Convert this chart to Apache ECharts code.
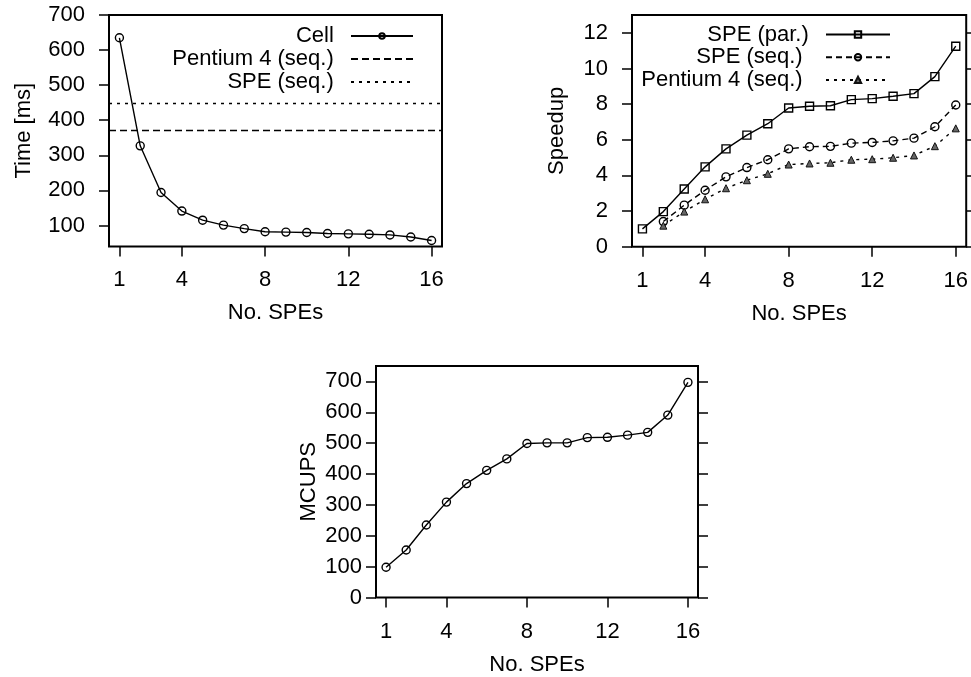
<!DOCTYPE html>
<html>
<head>
<meta charset="utf-8">
<script src="https://cdn.jsdelivr.net/npm/echarts@6/dist/echarts.min.js"></script>
<style>
  html, body { margin: 0; padding: 0; background: #fff; }
  #main { width: 971px; height: 677px; }
</style>
</head>
<body>
<div id="main"></div>
<script>
// No. of SPEs on the x axis
var spes = [1, 2, 3, 4, 5, 6, 7, 8, 9, 10, 11, 12, 13, 14, 15, 16];
var xTicks = [1, 4, 8, 12, 16];

// time [ms]
var cellTime = [635, 327, 194, 141, 115, 101, 91, 82, 81, 80, 77, 76, 75, 73, 67, 57];
var p4SeqTime = 372;
var speSeqTime = 448;
var timeTicks = [100, 200, 300, 400, 500, 600, 700];

// speedup
var speedupPar = [1.0, 1.97, 3.24, 4.48, 5.49, 6.26, 6.9, 7.78, 7.88, 7.91, 8.25, 8.31, 8.44, 8.59, 9.54, 11.25];
var speedupSpeSeq = [null, 1.41, 2.33, 3.17, 3.92, 4.44, 4.88, 5.49, 5.61, 5.63, 5.81, 5.85, 5.94, 6.09, 6.73, 7.95];
var speedupP4Seq = [null, 1.18, 1.97, 2.66, 3.28, 3.73, 4.09, 4.61, 4.67, 4.71, 4.88, 4.91, 4.99, 5.12, 5.64, 6.64];
var speedupTicks = [0, 2, 4, 6, 8, 10, 12];

// MCUPS
var mcups = [98, 154, 235, 309, 369, 412, 449, 499, 501, 501, 518, 519, 526, 535, 591, 697];
var mcupsTicks = [0, 100, 200, 300, 400, 500, 600, 700];

var FONT = 'Liberation Sans';
var FS = 22;
var LW = 1.4;

function pairs(vals) {
  var out = [];
  for (var i = 0; i < spes.length; i++) {
    if (vals[i] != null) out.push([spes[i], vals[i]]);
  }
  return out;
}

function xAx(grid, margin, gap) {
  return {
    gridIndex: grid, type: 'value', min: 0.5, max: 16.5,
    name: 'No. SPEs', nameLocation: 'middle', nameGap: gap,
    nameTextStyle: { fontFamily: FONT, fontSize: FS, color: '#000' },
    axisLine: { show: false },
    splitLine: { show: false },
    axisTick: { show: true, inside: false, length: 10, customValues: xTicks, lineStyle: { color: '#000', width: 1.5 } },
    axisLabel: { customValues: xTicks, margin: margin, fontFamily: FONT, fontSize: FS, color: '#000' }
  };
}

function yAx(grid, min, max, ticks, name, gap, margin, pos) {
  var right = pos === 'right';
  return {
    gridIndex: grid, type: 'value', min: min, max: max, position: pos || 'left',
    name: right ? '' : name, nameLocation: 'middle', nameGap: gap,
    nameTextStyle: { fontFamily: FONT, fontSize: FS, color: '#000' },
    axisLine: { show: false },
    splitLine: { show: false },
    axisTick: { show: true, inside: false, length: 10, customValues: ticks, lineStyle: { color: '#000', width: 1.5 } },
    axisLabel: { show: !right, customValues: ticks, margin: margin, fontFamily: FONT, fontSize: FS, color: '#000' }
  };
}

// plain line in the legend, no marker
var noMark = { color: 'rgba(0,0,0,0)', borderColor: 'rgba(0,0,0,0)', borderWidth: 0 };

var chart = echarts.init(document.getElementById('main'));

var option = {
  backgroundColor: '#fff',
  animation: false,
  grid: [
    { left: 109, top: 15, width: 333, height: 231.5, show: true, borderColor: '#000', borderWidth: 2, backgroundColor: 'transparent' },
    { left: 632, top: 15, width: 336, height: 231.7, show: true, borderColor: '#000', borderWidth: 2, backgroundColor: 'transparent' },
    { left: 376, top: 366, width: 322, height: 231.5, show: true, borderColor: '#000', borderWidth: 2, backgroundColor: 'transparent' }
  ],
  xAxis: [xAx(0, 22, 55), xAx(1, 23, 56), xAx(2, 23, 56)],
  yAxis: [
    yAx(0, 40, 700, timeTicks, 'Time [ms]', 74, 24),
    yAx(1, 0, 13, speedupTicks, 'Speedup', 64, 24),
    yAx(1, 0, 13, speedupTicks, '', 0, 0, 'right'),
    yAx(2, 0, 750, mcupsTicks, 'MCUPS', 56, 14),
    yAx(2, 0, 750, mcupsTicks, '', 0, 0, 'right')
  ],
  legend: [
    {
      right: 557, top: 25, orient: 'vertical', align: 'right', padding: 0, itemGap: 1,
      itemWidth: 62, itemHeight: 7, selectedMode: false,
      formatter: function (n) { return n + '  '; },
      textStyle: { fontFamily: FONT, fontSize: FS, color: '#000' },
      data: ['Cell', 'Pentium 4 (seq.)', 'SPE (seq.)']
    },
    {
      right: 80, top: 23.5, orient: 'vertical', align: 'right', padding: 0, itemGap: 0.7,
      itemWidth: 64, itemHeight: 8, selectedMode: false,
      formatter: function (n) { return n + '  '; },
      textStyle: { fontFamily: FONT, fontSize: FS, color: '#000' },
      data: ['SPE (par.)', 'SPE (seq.) ', 'Pentium 4 (seq.) ']
    }
  ],
  series: [
    {
      name: 'Cell', type: 'line', xAxisIndex: 0, yAxisIndex: 0,
      data: pairs(cellTime), symbol: 'circle', symbolSize: 8,
      lineStyle: { color: '#000', width: LW },
      itemStyle: { color: 'rgba(255,255,255,0)', borderColor: '#000', borderWidth: LW }
    },
    {
      name: 'Pentium 4 (seq.)', type: 'line', xAxisIndex: 0, yAxisIndex: 0,
      data: [], symbol: 'circle',
      lineStyle: { color: '#000', width: LW, type: [7, 4] },
      itemStyle: noMark,
      markLine: {
        silent: true, symbol: 'none', label: { show: false },
        lineStyle: { color: '#000', width: LW, type: [7, 4] },
        data: [{ yAxis: p4SeqTime }]
      }
    },
    {
      name: 'SPE (seq.)', type: 'line', xAxisIndex: 0, yAxisIndex: 0,
      data: [], symbol: 'circle',
      lineStyle: { color: '#000', width: LW, type: [3, 5] },
      itemStyle: noMark,
      markLine: {
        silent: true, symbol: 'none', label: { show: false },
        lineStyle: { color: '#000', width: LW, type: [3, 5] },
        data: [{ yAxis: speSeqTime }]
      }
    },
    {
      name: 'SPE (par.)', type: 'line', xAxisIndex: 1, yAxisIndex: 1,
      data: pairs(speedupPar), symbol: 'rect', symbolSize: 8,
      lineStyle: { color: '#000', width: LW },
      itemStyle: { color: 'rgba(255,255,255,0)', borderColor: '#000', borderWidth: LW }
    },
    {
      name: 'SPE (seq.) ', type: 'line', xAxisIndex: 1, yAxisIndex: 1,
      data: pairs(speedupSpeSeq), symbol: 'circle', symbolSize: 8,
      lineStyle: { color: '#000', width: LW, type: [6, 4] },
      itemStyle: { color: 'rgba(255,255,255,0)', borderColor: '#000', borderWidth: LW }
    },
    {
      name: 'Pentium 4 (seq.) ', type: 'line', xAxisIndex: 1, yAxisIndex: 1,
      data: pairs(speedupP4Seq), symbol: 'triangle', symbolSize: 7,
      lineStyle: { color: '#000', width: LW, type: [3, 5] },
      itemStyle: { color: '#666', borderColor: '#111', borderWidth: 1 }
    },
    {
      name: 'MCUPS', type: 'line', xAxisIndex: 2, yAxisIndex: 3,
      data: pairs(mcups), symbol: 'circle', symbolSize: 8,
      lineStyle: { color: '#000', width: LW },
      itemStyle: { color: 'rgba(255,255,255,0)', borderColor: '#000', borderWidth: LW }
    }
  ]
};

chart.setOption(option);
</script>
</body>
</html>
